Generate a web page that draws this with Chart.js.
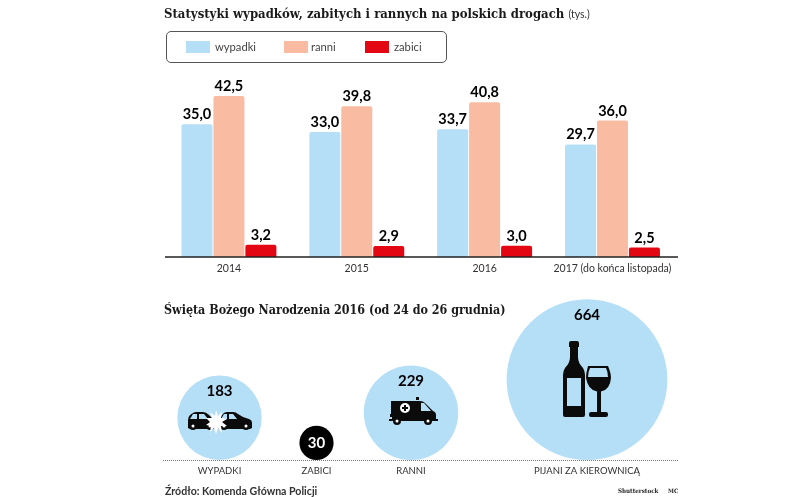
<!DOCTYPE html>
<html lang="pl"><head><meta charset="utf-8">
<script src="https://cdn.jsdelivr.net/npm/chart.js@4"></script>
<style>
html,body{margin:0;padding:0;background:#fff;width:805px;height:497px;overflow:hidden}
#stage{position:relative;width:805px;height:497px;font-family:Lato,sans-serif;color:#222}
canvas{position:absolute;left:0}
.t{position:absolute;white-space:nowrap}
.h{font-family:"DejaVu Serif Condensed","DejaVu Serif",serif;font-weight:700;color:#1a1a1a}
#legendBox{position:absolute;left:166px;top:31px;width:279px;height:30px;border:1px solid #555;border-radius:5px;box-sizing:content-box}
.sw{position:absolute;top:41px;width:24px;height:12px}
svg{position:absolute;left:0;top:0;pointer-events:none}
</style></head><body>
<div id="stage">
<canvas id="bars" width="805" height="290" style="top:0"></canvas>
<canvas id="bubbles" width="805" height="207" style="top:290px"></canvas>
<div class="t h" id="title1" style="left:164px;top:6px;font-size:13px">Statystyki wypadków, zabitych i rannych na polskich drogach <span style="font-weight:400;font-size:10.5px;font-family:Lato,sans-serif;color:#333">(tys.)</span></div>
<div class="t h" style="left:164px;top:302px;font-size:12.4px">Święta Bożego Narodzenia 2016 (od 24 do 26 grudnia)</div>
<div id="legendBox"></div>
<div id="legend"></div>
<div class="t" style="left:165px;top:485px;font-size:10.6px;font-weight:700;color:#333">Źródło: Komenda Główna Policji</div>
<div class="t h" style="left:618px;top:487px;font-size:6.2px">Shutterstock</div>
<div class="t h" style="left:668px;top:487px;font-size:6px">MC</div>
<svg width="805" height="497" viewBox="0 0 805 497">
  <!-- cars -->
  <g fill="#0b0b0b">
    <path d="M188 428v-8q0-3 2-5l3-2q1-1 4-1h6q3 0 6 3l4 4 3 1v6l-2 3h-24z"/>
    <path d="M252 428v-5q0-3-3-4l-6-2-5-3q-2-2-5-2h-6q-3 0-5 3l-2 3-3 3v6l2 2h31z"/>
    <circle cx="193" cy="426" r="4"/><circle cx="210" cy="426" r="4"/><circle cx="224" cy="426" r="4"/><circle cx="246" cy="426" r="4"/>
  </g>
  <g fill="#b5dff7"><path d="M193 414h4v5h-7zM199 414h5l4 5h-9zM224 414h3v5h-6zM229 414h4l4 5h-8z"/></g>
  <g fill="#fff"><circle cx="193" cy="426" r="1.5"/><circle cx="210" cy="426" r="1.5"/><circle cx="224" cy="426" r="1.5"/><circle cx="246" cy="426" r="1.5"/>
    <path d="M216 410l2 6 4-4-1 6 6 1-5 3 5 4-6 0 1 7-4-5-2 6-2-6-4 4 1-6-5-1 4-3-4-4 6 0-2-6 5 4z"/></g>
  <!-- ambulance -->
  <g fill="#0b0b0b">
    <rect x="416" y="397" width="3" height="3"/>
    <path d="M391 401h29q3 0 5 2l8 8q3 1 3 4v6h-44v-4h-2v-3h1z"/>
    <rect x="389" y="419" width="49" height="2"/>
    <circle cx="397" cy="421" r="4"/><circle cx="428" cy="421" r="4"/>
  </g>
  <path d="M421 403h3l7 8h-10z" fill="#b5dff7"/>
  <circle cx="405" cy="408" r="5" fill="#fff"/>
  <path d="M404 405h2v2h2v2h-2v2h-2v-2h-2v-2h2z" fill="#0b0b0b"/>
  <g fill="#fff"><circle cx="397" cy="421" r="1.5"/><circle cx="428" cy="421" r="1.5"/></g>
  <!-- bottle -->
  <path d="M569 343q0-2 2-2h6q2 0 2 2v4h-1v10q0 6 5 11q2 3 2 7v40q0 2-2 2h-18q-2 0-2-2v-40q0-4 2-7q5-5 5-11v-10h-1z" fill="#0b0b0b"/>
  <rect x="567" y="378" width="14" height="28" fill="#b5dff7"/>
  <!-- glass -->
  <path d="M588 366h20q3 7 3 12q-1 12-10 13.500v20.500h5q2 0 2 2v1q0 2-2 2h-15q-2 0-2-2v-1q0-2 2-2h6v-20.500q-9-1.500-11-13.500q0-5 2-12z" fill="#0b0b0b"/>
  <path d="M590 368h16q2 4 2 9h-20q0-5 2-9z" fill="#b5dff7"/>
</svg>
</div>
<script>
// ---- data ----
const years = ['2014', '2015', '2016', '2017 (do końca listopada)'];
const wypadki = [35.0, 33.0, 33.7, 29.7];
const ranni = [42.5, 39.8, 40.8, 36.0];
const zabici = [3.2, 2.9, 3.0, 2.5];
const seriesNames = ['wypadki', 'ranni', 'zabici'];
const bubbleLabels = ['WYPADKI', 'ZABICI', 'RANNI', 'PIJANI ZA KIEROWNICĄ'];
const bubbleValues = [183, 30, 229, 664];

// ---- layout and style ----
const BLUE = '#b5dff7', SALMON = '#f9bca3', RED = '#e30613';
const bubbleCentres = [219.5, 316.5, 411, 587];
const RADIUS_PER_ROOT = 3.12;
const legendLeft = [186, 284, 365], legendText = [215, 311, 394];
const VALUE_FONT = 'bold 14.5px Lato, sans-serif';
Chart.defaults.animation = false;
Chart.defaults.font.family = 'Lato, sans-serif';

const barLabels = {
  id: 'barLabels',
  afterDatasetsDraw(chart) {
    const c = chart.ctx, s = chart.scales.x;
    c.save();
    c.strokeStyle = '#222'; c.lineWidth = 1.5;
    c.beginPath(); c.moveTo(s.left, s.top); c.lineTo(678, s.top); c.stroke();
    c.font = VALUE_FONT; c.fillStyle = '#000'; c.textAlign = 'center'; c.textBaseline = 'alphabetic';
    chart.data.datasets.forEach((ds, i) => chart.getDatasetMeta(i).data.forEach((el, j) => {
      c.fillText(ds.data[j].toFixed(1).replace('.', ','), el.x, el.y - 5);
    }));
    c.restore();
  }
};

new Chart(document.getElementById('bars'), {
  type: 'bar',
  data: {
    labels: years,
    datasets: [
      { label: seriesNames[0], data: wypadki, backgroundColor: BLUE },
      { label: seriesNames[1], data: ranni, backgroundColor: SALMON },
      { label: seriesNames[2], data: zabici, backgroundColor: RED }
    ]
  },
  plugins: [barLabels],
  options: {
    responsive: false, devicePixelRatio: 1,
    layout: { autoPadding: false, padding: { left: 165, right: 128.6, top: 69, bottom: 0 } },
    datasets: { bar: { categoryPercentage: 0.75, barPercentage: 0.97, borderRadius: { topLeft: 2, topRight: 2 }, borderSkipped: 'bottom' } },
    plugins: { legend: { display: false }, tooltip: { enabled: false } },
    scales: {
      x: {
        grid: { display: false, drawTicks: false }, border: { display: false },
        afterFit: s => { s.height = 33; },
        ticks: { color: '#333', font: { size: 10.5 }, padding: 5, maxRotation: 0, autoSkip: false }
      },
      y: { display: false, min: 0, max: 188 / 3.79 }
    }
  }
});

// HTML legend, built from the series names and colours
const lg = document.getElementById('legend');
seriesNames.forEach((n, i) => {
  const s = document.createElement('div'); s.className = 'sw';
  s.style.left = legendLeft[i] + 'px'; s.style.background = [BLUE, SALMON, RED][i]; lg.appendChild(s);
  const t = document.createElement('div'); t.className = 't'; t.textContent = n;
  t.style.cssText = `left:${legendText[i]}px;top:40px;font-size:11.2px;color:#444`; lg.appendChild(t);
});

const bubbleLabelPlugin = {
  id: 'bubbleLabels',
  afterDatasetsDraw(chart) {
    const c = chart.ctx, s = chart.scales.x;
    c.save();
    // dotted baseline
    c.strokeStyle = '#777'; c.lineWidth = 1; c.setLineDash([1, 1]);
    c.beginPath(); c.moveTo(s.left, Math.round(s.top) + 0.5); c.lineTo(s.right, Math.round(s.top) + 0.5); c.stroke();
    c.setLineDash([]);
    c.font = 'bold 15px Lato, sans-serif'; c.textAlign = 'center'; c.textBaseline = 'middle';
    chart.getDatasetMeta(0).data.forEach((el, j) => {
      const r = chart.data.datasets[0].data[j].r;
      const small = r < 20;
      c.fillStyle = small ? '#fff' : '#000';
      c.fillText(String(bubbleValues[j]), el.x, small ? el.y : el.y - r + 16);
    });
    c.restore();
  }
};

new Chart(document.getElementById('bubbles'), {
  type: 'bubble',
  data: {
    datasets: [{
      data: bubbleValues.map((v, i) => {
        const r = RADIUS_PER_ROOT * Math.sqrt(v);
        return { x: bubbleCentres[i], y: r, r };
      }),
      backgroundColor: bubbleValues.map(v => v < 50 ? '#000' : BLUE),
      borderWidth: 0, clip: false
    }]
  },
  plugins: [bubbleLabelPlugin],
  options: {
    responsive: false, devicePixelRatio: 1,
    layout: { autoPadding: false, padding: { left: 163, right: 127, top: 0, bottom: 0 } },
    plugins: { legend: { display: false }, tooltip: { enabled: false } },
    scales: {
      x: {
        type: 'linear', min: 163, max: 678,
        grid: { display: false, drawTicks: false }, border: { display: false },
        afterFit: s => { s.height = 37; },
        afterBuildTicks: s => { s.ticks = bubbleCentres.map(v => ({ value: v })); },
        ticks: { color: '#333', font: { size: 9.5 }, padding: 5, maxRotation: 0, autoSkip: false,
          callback: (v, i) => bubbleLabels[i] }
      },
      y: { display: false, min: 0, max: 170 }
    }
  }
});
</script>
</body></html>
